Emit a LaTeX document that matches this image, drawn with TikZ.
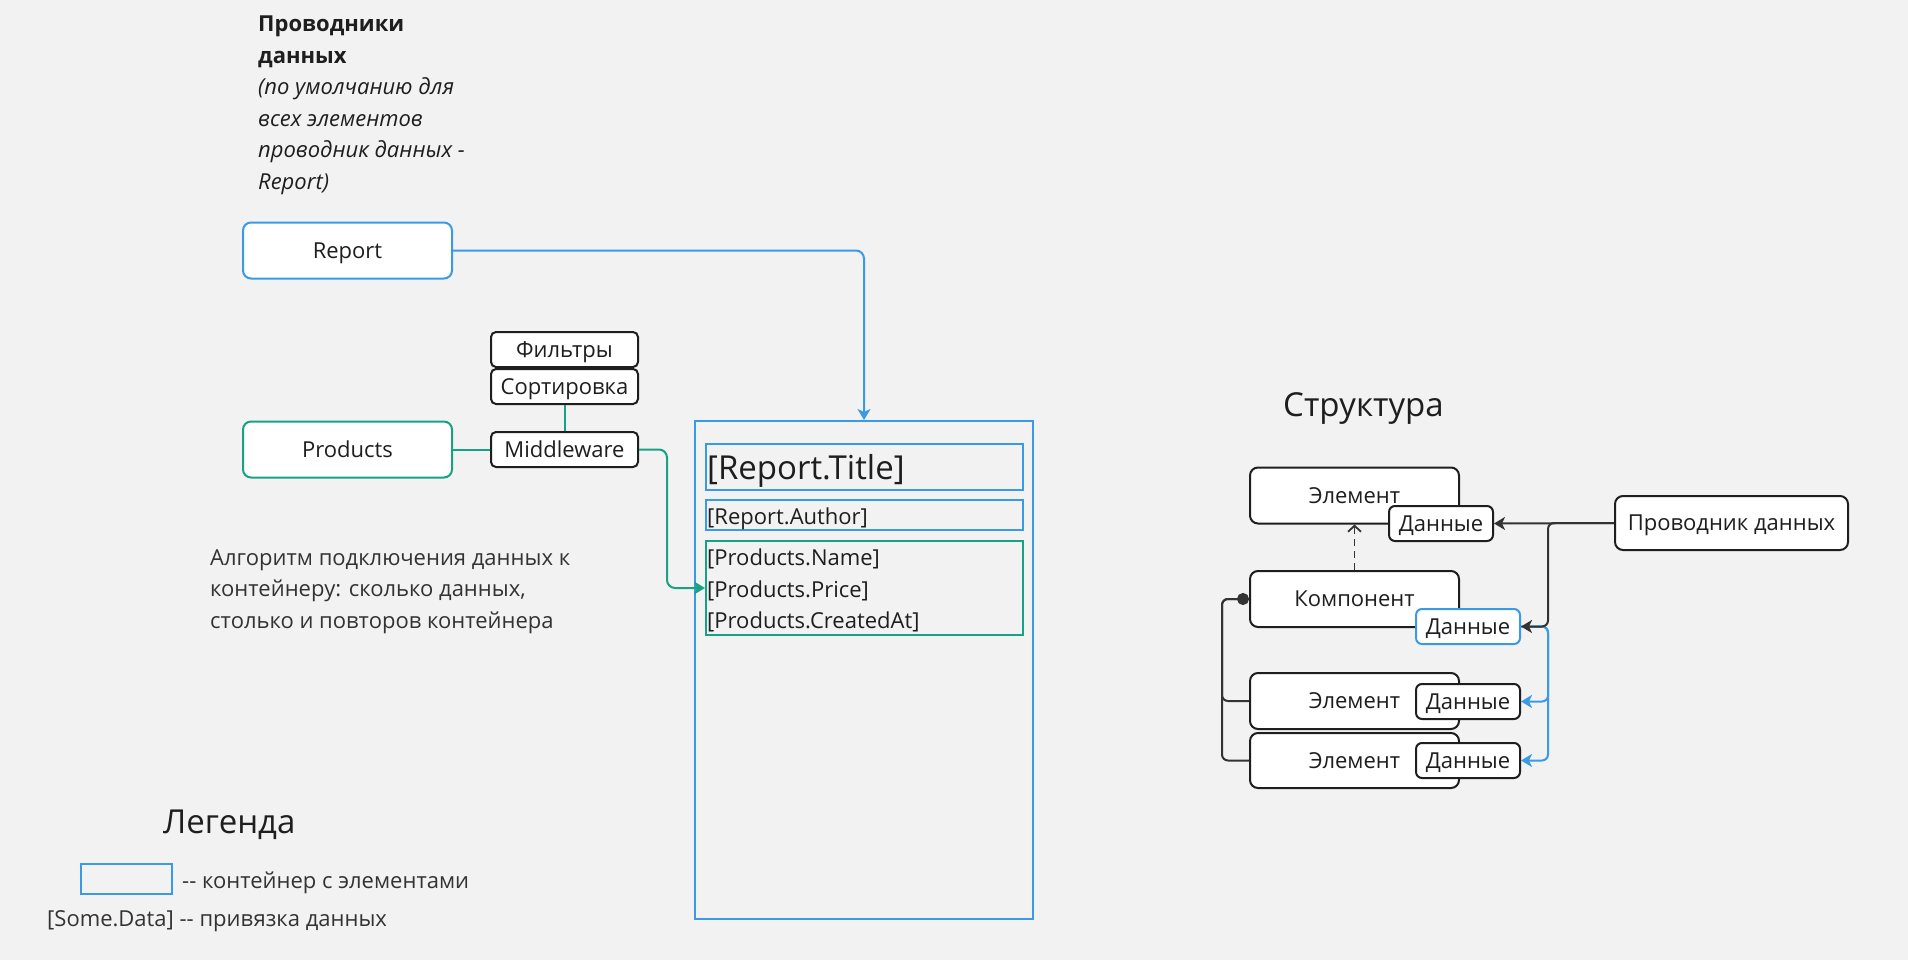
\documentclass[tikz,border=0pt]{standalone}
\usepackage{fontspec}
\setmainfont{Open Sans}
\usetikzlibrary{arrows.meta}
\definecolor{bg}{HTML}{F2F2F2}
\definecolor{mblue}{HTML}{3A9AE6}
\definecolor{mgreen}{HTML}{17A283}
\definecolor{ink}{HTML}{1E1E1E}
\definecolor{lineink}{HTML}{333333}
\begin{document}
\begin{tikzpicture}[x=1pt,y=-1pt,
  every node/.style={inner sep=0pt, text=ink, font=\fontsize{22}{31.5}\selectfont},
  big/.style={font=\fontsize{33}{38}\selectfont},
  rbox/.style={draw, fill=white, rounded corners=8pt, line width=2pt, minimum width=209pt, minimum height=56pt, text height=15pt, text depth=0pt},
  sbox/.style={draw=ink, fill=white, rounded corners=5pt, line width=2pt, minimum width=147pt, minimum height=35pt, text height=15pt, text depth=0pt},
  ebox/.style={draw=ink, fill=white, rounded corners=8pt, line width=2pt, minimum width=209pt, minimum height=56pt, text height=15pt, text depth=0pt},
  dbox/.style={draw=ink, fill=white, rounded corners=6pt, line width=2pt, minimum width=104pt, minimum height=35pt, text height=15pt, text depth=0pt},
  frame/.style={draw, line width=2pt},
  tip/.style={-{Stealth[length=11pt,width=13pt,inset=3pt]}},
  bluearrow/.style={draw=mblue, line width=2pt, tip},
  greenline/.style={draw=mgreen, line width=2pt},
  greenarrow/.style={draw=mgreen, line width=2pt, tip},
  darkline/.style={draw=lineink, line width=2pt},
  darkarrow/.style={draw=lineink, line width=2pt, tip}
]
\useasboundingbox (0,0) rectangle (1908,960);
\fill[bg] (0,0) rectangle (1908,960);

% heading
\node (head) [anchor=north west, align=left] at (258,16)
  {\textbf{Проводники}\\\textbf{данных}\\\textit{(по умолчанию для}\\\textit{всех элементов}\\\textit{проводник данных -}\\\textit{Report)}};

% data sources
\node (report) [rbox, draw=mblue] at (347.5,250.5) {Report};
\node (products) [rbox, draw=mgreen] at (347.5,449.5) {Products};
\node (filt) [sbox] at (564.5,349.5) {Фильтры};
\node (sort) [sbox] at (564.5,386.5) {Сортировка};
\node (mw) [sbox] at (564.5,449.5) {Middleware};

% container
\node (cont) [frame, draw=mblue, minimum width=338pt, minimum height=498pt] at (864,670) {};
\node (tbox) [frame, draw=mblue, minimum width=317pt, minimum height=46pt] at (864.5,467) {};
\node (abox) [frame, draw=mblue, minimum width=317pt, minimum height=30pt] at (864.5,515) {};
\node (pbox) [frame, draw=mgreen, minimum width=317pt, minimum height=94pt] at (864.5,588) {};
\node (ttl) [big, anchor=base west] at (707,479) {[Report.Title]};
\node (auth) [anchor=base west] at (707,524) {[Report.Author]};
\node (pn) [anchor=base west] at (707,565) {[Products.Name]};
\node (pp) [anchor=base west] at (707,597) {[Products.Price]};
\node (pc) [anchor=base west] at (707,628) {[Products.CreatedAt]};

% algorithm text
\node (algo) [anchor=north west, align=left, text=lineink] at (210,549.3)
  {Алгоритм подключения данных к\\контейнеру: сколько данных,\\столько и повторов контейнера};

% connectors left
\coordinate (gx) at (667,0);
\draw[bluearrow, rounded corners=8pt] (report.east) -| (cont.north);
\draw[greenline] (products.east) -- (mw.west);
\draw[greenline] (sort.south) -- (mw.north);
\draw[greenarrow, rounded corners=8pt] (mw.east) -- (mw.east -| gx) -- (pbox.west -| gx) -- (pbox.west);

% legend
\node (leg) [big, anchor=base west] at (163,833) {Легенда};
\node (lbox) [frame, draw=mblue, minimum width=91pt, minimum height=30pt] at (126.5,879) {};
\node (l1) [anchor=base west, text=lineink] at (182,888) {-{}- контейнер с элементами};
\node (l2) [anchor=base west, text=lineink] at (47,926) {[Some.Data] -{}- привязка данных};

% structure
\node (struct) [big, anchor=base west] at (1283,416) {Структура};
\node (el1) [ebox] at (1354.5,495.5) {Элемент};
\node (d1) [dbox] at (1441,523.5) {Данные};
\node (pd) [ebox, minimum width=233pt, minimum height=54pt] at (1731.5,523) {Проводник данных};
\node (comp) [ebox] at (1354.5,599) {Компонент};
\node (d2) [dbox, draw=mblue] at (1468,626.5) {Данные};
\node (el2) [ebox] at (1354.5,701) {Элемент};
\node (d3) [dbox] at (1468,701.5) {Данные};
\node (el3) [ebox, minimum height=55pt] at (1354.5,760.5) {Элемент};
\node (d4) [dbox] at (1468,760.5) {Данные};

\coordinate (jx) at (1548,0);
\coordinate (lx) at (1222,0);
\draw[bluearrow, rounded corners=6pt] (d2.east) -- (d2.east -| jx) -- (d3.east -| jx) -- (d3.east);
\draw[bluearrow, rounded corners=6pt] (d2.east) -- (d2.east -| jx) -- (d4.east -| jx) -- (d4.east);
\draw[darkarrow] (pd.west) -- (d1.east);
\draw[darkarrow, rounded corners=6pt] (pd.west) -- (pd.west -| jx) -- (d2.east -| jx) -- (d2.east);
\draw[darkline, {Circle[length=12pt,width=12pt]}-, rounded corners=6pt] (comp.west) -- (comp.west -| lx) -- (el2.west -| lx) -- (el2.west);
\draw[darkline, rounded corners=6pt] (comp.west) -- (comp.west -| lx) -- (el3.west -| lx) -- (el3.west);
\draw[draw=lineink, line width=1.8pt, dash pattern=on 7pt off 5pt, -{Straight Barb[length=6pt,width=13pt]}] (comp.north) -- (el1.south);
\end{tikzpicture}
\end{document}
